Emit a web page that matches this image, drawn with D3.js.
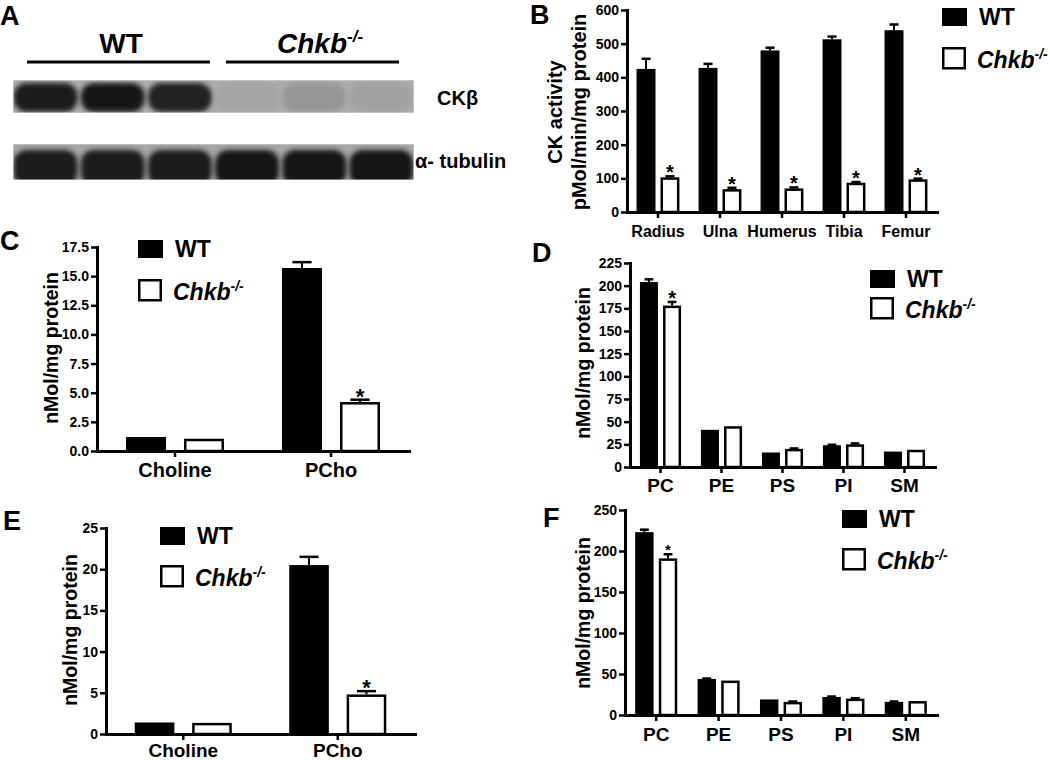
<!DOCTYPE html>
<html>
<head>
<script src="https://d3js.org/d3.v7.min.js"></script>
<style>
  body { margin: 0; background: #fff; }
  svg { display: block; }
  text { font-family: Arial, 'Liberation Sans', sans-serif; font-weight: bold; fill: #000; }
</style>
</head>
<body>
<svg></svg>
<script>
// ---- data ----
// A: western blot, band darkness per lane (0 = none, 1 = saturated)
var lanes = ['WT1', 'WT2', 'WT3', 'KO1', 'KO2', 'KO3'];
var ckbBand = [0.95, 0.97, 0.9, 0.1, 0.18, 0.12];
var tubBand = [0.95, 0.95, 0.94, 0.97, 0.97, 0.97];

// B: CK activity
var bones = ['Radius', 'Ulna', 'Humerus', 'Tibia', 'Femur'];
var bWT = [425, 428, 480, 513, 540];
var bWTerr = [30, 12, 8, 8, 17];
var bKO = [103, 68, 70, 87, 97];
var bKOerr = [3, 4, 3, 2, 2];
var bStar = [true, true, true, true, true];

// C: choline / phosphocholine
var cholCats = ['Choline', 'PCho'];
var cWT = [1.2, 15.7];
var cWTerr = [0, 0.5];
var cKO = [1.05, 4.2];
var cKOerr = [0, 0.2];
var cStar = [false, true];

// D: phospholipids
var lipids = ['PC', 'PE', 'PS', 'PI', 'SM'];
var dWT = [204, 41, 16, 24, 17];
var dWTerr = [3, 0, 0, 0.5, 0];
var dKO = [178, 45, 20, 25, 19];
var dKOerr = [4, 0, 0.5, 1, 0];
var dStar = [true, false, false, false, false];

// E: choline / phosphocholine
var eWT = [1.4, 20.5];
var eWTerr = [0, 1.0];
var eKO = [1.35, 4.8];
var eKOerr = [0, 0.4];
var eStar = [false, true];

// F: phospholipids
var fWT = [223, 44, 19, 22, 16];
var fWTerr = [3, 0.5, 0, 0.5, 0.5];
var fKO = [191, 42, 16, 20, 17];
var fKOerr = [5, 0, 0.5, 0.5, 0];
var fStar = [true, false, false, false, false];

var svg = d3.select('svg').attr('width', 1050).attr('height', 760);
var defs = svg.append('defs');
defs.append('filter').attr('id', 'blur')
  .attr('x', '-30%').attr('y', '-30%').attr('width', '160%').attr('height', '160%')
  .append('feGaussianBlur').attr('stdDeviation', 2.8);

function letter(t, x, y) {
  svg.append('text').attr('x', x).attr('y', y).style('font-size', '27px').text(t);
}

function chkb(sel, size, sup) {
  sel.append('tspan').style('font-style', 'italic').text('Chkb');
  sel.append('tspan').style('font-style', 'italic').style('font-size', sup + 'px')
    .attr('dy', -size * 0.4).text('-/-');
}

// ---- panel A ----
letter('A', 0, 25);
svg.append('text').attr('x', 121).attr('y', 53).attr('text-anchor', 'middle')
  .style('font-size', '28px').text('WT');
svg.append('text').attr('x', 277).attr('y', 53).style('font-size', '28px')
  .call(s => chkb(s, 28, 17));
svg.append('line').attr('x1', 27).attr('x2', 210).attr('y1', 62).attr('y2', 62)
  .style('stroke', '#000').style('stroke-width', 3);
svg.append('line').attr('x1', 226).attr('x2', 399).attr('y1', 62).attr('y2', 62)
  .style('stroke', '#000').style('stroke-width', 3);

var laneX = d3.scaleBand().domain(lanes).range([13, 414]).paddingInner(0.05).paddingOuter(0.01);
var shade = d3.scaleLinear().domain([0, 1]).range(['#b4b4b4', '#141414']);

function blot(vals, id, top, h, bg, bandTop, bandH) {
  defs.append('clipPath').attr('id', id).append('rect')
    .attr('x', 13).attr('y', top).attr('width', 401).attr('height', h);
  var g = svg.append('g').attr('clip-path', 'url(#' + id + ')');
  g.append('rect').attr('x', 13).attr('y', top).attr('width', 401).attr('height', h).style('fill', bg);
  g.selectAll('rect.band')
    .data(vals)
    .enter()
    .append('rect')
      .attr('class', 'band')
      .attr('x', (d, i) => laneX(lanes[i]))
      .attr('y', bandTop)
      .attr('width', laneX.bandwidth())
      .attr('height', bandH)
      .attr('rx', 13)
      .style('fill', d => shade(d))
      .attr('filter', 'url(#blur)');
  g.append('rect').attr('x', 13).attr('y', top).attr('width', 401).attr('height', h)
    .style('fill', 'none').style('stroke', '#d8d8d8').style('stroke-width', 1);
}
blot(ckbBand, 'clipA1', 80, 33, '#adadad', 83, 29);
blot(tubBand, 'clipA2', 144, 36, '#a6a6a6', 150, 36);

svg.append('text').attr('x', 437).attr('y', 105).style('font-size', '20px').text('CKβ');
svg.append('text').attr('x', 415).attr('y', 168).style('font-size', '20px').text('α- tubulin');

// ---- bar panels ----
function legend(x, y, gap, fs) {
  svg.append('rect').attr('x', x).attr('y', y).attr('width', 25).attr('height', 18).style('fill', '#000');
  svg.append('text').attr('x', x + 37).attr('y', y + 17).style('font-size', fs + 'px').text('WT');
  svg.append('rect').attr('x', x + 1.25).attr('y', y + gap + 1.25).attr('width', 21.5).attr('height', 20)
    .style('fill', '#fff').style('stroke', '#000').style('stroke-width', 2.5);
  svg.append('text').attr('x', x + 35).attr('y', y + gap + 21).style('font-size', fs + 'px')
    .call(s => chkb(s, fs, 14));
}

function barPanel(p) {
  var g = svg.append('g');
  var x = d3.scaleBand().domain(p.cats).range([p.x0, p.x1]);
  var sub = d3.scaleBand().domain(['WT', 'KO']).range([0, x.bandwidth()])
    .paddingInner(p.pi).paddingOuter(p.po);
  var y = d3.scaleLinear().domain([0, p.max]).range([p.y0, p.yTop]);
  var sw = 2.5;

  var rows = [];
  p.cats.forEach((c, i) => {
    rows.push({cat: c, grp: 'WT', v: p.wt[i], e: p.wtErr[i], star: false});
    rows.push({cat: c, grp: 'KO', v: p.ko[i], e: p.koErr[i], star: p.stars[i]});
  });
  var bw = sub.bandwidth();
  var cx = d => x(d.cat) + sub(d.grp) + bw / 2;

  var eb = g.selectAll('g.err').data(rows.filter(d => d.e > 0)).enter().append('g');
  eb.append('line')
    .attr('x1', cx).attr('x2', cx)
    .attr('y1', d => y(d.v)).attr('y2', d => y(d.v + d.e))
    .style('stroke', '#000').style('stroke-width', 2);
  eb.append('line')
    .attr('x1', d => cx(d) - bw * 0.24).attr('x2', d => cx(d) + bw * 0.24)
    .attr('y1', d => y(d.v + d.e)).attr('y2', d => y(d.v + d.e))
    .style('stroke', '#000').style('stroke-width', 2.5);

  g.selectAll('rect.bar')
    .data(rows)
    .enter()
    .append('rect')
      .attr('x', d => x(d.cat) + sub(d.grp) + (d.grp == 'KO' ? sw / 2 : 0))
      .attr('y', d => y(d.v) + (d.grp == 'KO' ? sw / 2 : 0))
      .attr('width', d => d.grp == 'KO' ? bw - sw : bw)
      .attr('height', d => p.y0 - y(d.v) - (d.grp == 'KO' ? sw / 2 : 0))
      .style('fill', d => d.grp == 'KO' ? '#fff' : '#000')
      .style('stroke', d => d.grp == 'KO' ? '#000' : 'none')
      .style('stroke-width', sw);

  g.selectAll('text.star')
    .data(rows.filter(d => d.star))
    .enter()
    .append('text')
      .attr('x', cx)
      .attr('y', d => y(d.v + d.e) + p.starSize * 0.4 - 5)
      .attr('text-anchor', 'middle')
      .style('font-size', p.starSize + 'px')
      .text('*');

  var yAxis = g.append('g').attr('transform', `translate(${p.x0},0)`)
    .call(d3.axisLeft(y).tickValues(d3.range(0, p.max + p.step / 2, p.step))
      .tickFormat(d3.format(p.fmt)).tickSize(6).tickSizeOuter(0).tickPadding(2));
  var xAxis = g.append('g').attr('transform', `translate(0,${p.y0})`)
    .call(d3.axisBottom(x).tickSize(6).tickSizeOuter(0).tickPadding(p.xPad));

  [yAxis, xAxis].forEach(a => {
    a.select('.domain').style('stroke', '#000').style('stroke-width', 3).style('stroke-linecap', 'square');
    a.selectAll('.tick line').style('stroke', '#000').style('stroke-width', 2.5);
    a.selectAll('text').style('font-family', "Arial, 'Liberation Sans', sans-serif").style('font-weight', 'bold').attr('fill', '#000');
  });
  yAxis.selectAll('text').style('font-size', '14px');
  xAxis.selectAll('text').style('font-size', p.xFont + 'px');

  p.ylabel.forEach((t, i) => {
    svg.append('text')
      .attr('transform', `translate(${p.lx[i]},${p.ly}) rotate(-90)`)
      .attr('text-anchor', 'middle').attr('dy', '0.35em')
      .style('font-size', p.lfs + 'px')
      .text(t);
  });
}

// B
letter('B', 530, 24);
barPanel({cats: bones, wt: bWT, wtErr: bWTerr, ko: bKO, koErr: bKOerr, stars: bStar,
  x0: 627, x1: 937, y0: 212, yTop: 10, max: 600, step: 100, fmt: 'd',
  pi: 0.21, po: 0.4, xFont: 16, xPad: 8, starSize: 20,
  ylabel: ['CK activity', 'pMol/min/mg protein'], lx: [555, 579], ly: 112, lfs: 20});
legend(942, 8, 39, 23);

// C
letter('C', 0, 250);
barPanel({cats: cholCats, wt: cWT, wtErr: cWTerr, ko: cKO, koErr: cKOerr, stars: cStar,
  x0: 97, x1: 409, y0: 451, yTop: 247, max: 17.5, step: 2.5, fmt: '.1f',
  pi: 0.31, po: 0.5, xFont: 20, xPad: 6, starSize: 22,
  ylabel: ['nMol/mg protein'], lx: [51], ly: 348, lfs: 19.5});
legend(138, 240, 39, 23);

// D
letter('D', 532, 262);
barPanel({cats: lipids, wt: dWT, wtErr: dWTerr, ko: dKO, koErr: dKOerr, stars: dStar,
  x0: 630, x1: 935, y0: 467, yTop: 263, max: 225, step: 25, fmt: 'd',
  pi: 0.22, po: 0.43, xFont: 19, xPad: 6, starSize: 20,
  ylabel: ['nMol/mg protein'], lx: [583], ly: 363, lfs: 19.5});
legend(870, 270, 27, 23);

// E
letter('E', 3, 530);
barPanel({cats: cholCats, wt: eWT, wtErr: eWTerr, ko: eKO, koErr: eKOerr, stars: eStar,
  x0: 106, x1: 415, y0: 734, yTop: 528, max: 25, step: 5, fmt: 'd',
  pi: 0.31, po: 0.5, xFont: 19, xPad: 4, starSize: 22,
  ylabel: ['nMol/mg protein'], lx: [70], ly: 630, lfs: 19.5});
legend(160, 527, 38, 23);

// F
letter('F', 543, 527);
barPanel({cats: lipids, wt: fWT, wtErr: fWTerr, ko: fKO, koErr: fKOerr, stars: fStar,
  x0: 625, x1: 937, y0: 715, yTop: 510, max: 250, step: 50, fmt: 'd',
  pi: 0.22, po: 0.43, xFont: 19, xPad: 7, starSize: 15,
  ylabel: ['nMol/mg protein'], lx: [583], ly: 613, lfs: 19.5});
legend(842, 510, 38, 23);
</script>
</body>
</html>
